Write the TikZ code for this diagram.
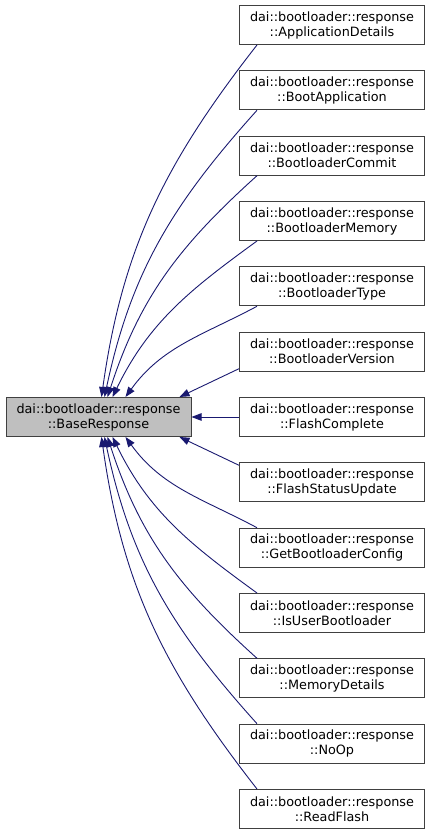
\documentclass[tikz,border=0pt]{standalone}
\usepackage{fontspec}
\setmainfont{DejaVu Sans}
\usepackage{tikz}
\usetikzlibrary{calc,arrows.meta}
\definecolor{edgeblue}{HTML}{191970}
\definecolor{boxgray}{HTML}{404040}
\definecolor{basefill}{HTML}{BFBFBF}

\begin{document}
\begin{tikzpicture}[x=1pt,y=1pt,
    cls/.style={draw=boxgray,line width=1pt,minimum width=185pt,minimum height=39pt,
      inner sep=0pt,align=center,font=\fontsize{12.8}{15}\selectfont},
    inh/.style={draw=edgeblue,line width=0.9pt,-{Triangle[length=10pt,width=7.5pt]}}]
  \useasboundingbox (0,0) rectangle (432,836);

  \node[cls,fill=basefill] (0) at (98.5,419) {dai::bootloader::response\\::BaseResponse};

  \node[cls] (1) at (332,811) {dai::bootloader::response\\::ApplicationDetails};
  \node[cls] (2) at (332,745.7) {dai::bootloader::response\\::BootApplication};
  \node[cls] (3) at (332,680.3) {dai::bootloader::response\\::BootloaderCommit};
  \node[cls] (4) at (332,615) {dai::bootloader::response\\::BootloaderMemory};
  \node[cls] (5) at (332,549.7) {dai::bootloader::response\\::BootloaderType};
  \node[cls] (6) at (332,484.3) {dai::bootloader::response\\::BootloaderVersion};
  \node[cls] (7) at (332,419) {dai::bootloader::response\\::FlashComplete};
  \node[cls] (8) at (332,353.7) {dai::bootloader::response\\::FlashStatusUpdate};
  \node[cls] (9) at (332,288.3) {dai::bootloader::response\\::GetBootloaderConfig};
  \node[cls] (10) at (332,223) {dai::bootloader::response\\::IsUserBootloader};
  \node[cls] (11) at (332,157.7) {dai::bootloader::response\\::MemoryDetails};
  \node[cls] (12) at (332,92.3) {dai::bootloader::response\\::NoOp};
  \node[cls] (13) at (332,27) {dai::bootloader::response\\::ReadFlash};

  \draw[inh] ([xshift=18]1.south west) to[out=232,in=82] ([xshift=96]0.north west);
  \draw[inh] ([xshift=18]2.south west) to[out=228,in=78] ([xshift=99]0.north west);
  \draw[inh] ([xshift=18]3.south west) to[out=222,in=72] ([xshift=102]0.north west);
  \draw[inh] ([xshift=18]4.south west) to[out=216,in=64] ([xshift=107]0.north west);
  \draw[inh] ([xshift=18]5.south west) to[out=208,in=54] ([xshift=120]0.north west);
  \draw[inh] ([yshift=3]6.south west) -- ([xshift=-12]0.north east);
  \draw[inh] (7.west) -- (0.east);
  \draw[inh] ([yshift=-3]8.north west) -- ([xshift=-12]0.south east);
  \draw[inh] ([xshift=18]9.north west) to[out=152,in=-54] ([xshift=120]0.south west);
  \draw[inh] ([xshift=18]10.north west) to[out=144,in=-64] ([xshift=107]0.south west);
  \draw[inh] ([xshift=18]11.north west) to[out=138,in=-72] ([xshift=102]0.south west);
  \draw[inh] ([xshift=18]12.north west) to[out=132,in=-78] ([xshift=99]0.south west);
  \draw[inh] ([xshift=18]13.north west) to[out=128,in=-82] ([xshift=96]0.south west);
\end{tikzpicture}
\end{document}
